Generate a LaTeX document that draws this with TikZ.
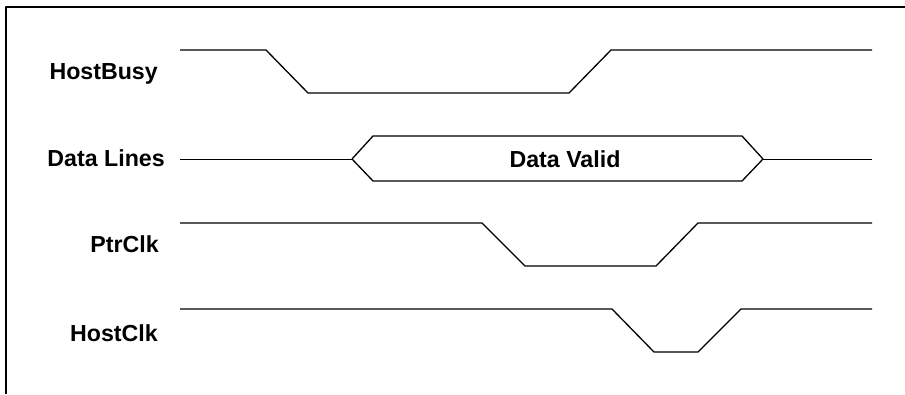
\documentclass[tikz,border=0pt]{standalone}
\usepackage{fontspec}
\setmainfont{Liberation Sans}
\usepackage{tikz}
\usetikzlibrary{calc}

\begin{document}
\begin{tikzpicture}[x=1pt,y=-1pt,line join=round,
  wave/.style={line width=1.3pt},
  frame/.style={line width=1.8pt},
  siglabel/.style={anchor=base east,inner sep=0pt,font=\bfseries\fontsize{23.2}{27}\selectfont}]
  \useasboundingbox (0,0) rectangle (905,394);
  % frame
  \coordinate (F0) at (6,394);
  \coordinate (F1) at (6,7);
  \coordinate (F2) at (905,7);
  \draw[frame] (F0) -- (F1) -- (F2);
  % HostBusy
  \coordinate (HB0) at (180,50);
  \coordinate (HB1) at (266,50);
  \coordinate (HB2) at (308,93);
  \coordinate (HB3) at (569,93);
  \coordinate (HB4) at (611,50);
  \coordinate (HB5) at (872,50);
  \draw[wave] (HB0) -- (HB1) -- (HB2) -- (HB3) -- (HB4) -- (HB5);
  % Data Lines
  \coordinate (DL0) at (180,159);
  \coordinate (DL1) at (352,159);
  \coordinate (DL2) at (373,136);
  \coordinate (DL3) at (742,136);
  \coordinate (DL4) at (763,159);
  \coordinate (DL5) at (742,181);
  \coordinate (DL6) at (373,181);
  \coordinate (DL7) at (872,159);
  \draw[wave,line width=1pt] (DL0) -- (DL1);
  \draw[wave] (DL1) -- (DL2) -- (DL3) -- (DL4) -- (DL5) -- (DL6) -- cycle;
  \draw[wave,line width=1pt] (DL4) -- (DL7);
  % PtrClk
  \coordinate (PC0) at (180,223);
  \coordinate (PC1) at (482,223);
  \coordinate (PC2) at (525,266);
  \coordinate (PC3) at (656,266);
  \coordinate (PC4) at (698,223);
  \coordinate (PC5) at (872,223);
  \draw[wave] (PC0) -- (PC1) -- (PC2) -- (PC3) -- (PC4) -- (PC5);
  % HostClk
  \coordinate (HC0) at (180,309);
  \coordinate (HC1) at (612,309);
  \coordinate (HC2) at (654,352);
  \coordinate (HC3) at (698,352);
  \coordinate (HC4) at (741,309);
  \coordinate (HC5) at (872,309);
  \draw[wave] (HC0) -- (HC1) -- (HC2) -- (HC3) -- (HC4) -- (HC5);
  % labels
  \node[siglabel] (lHB) at (158,79) {HostBusy};
  \node[siglabel] (lDL) at (165,166) {Data Lines};
  \node[siglabel] (lPC) at (159,252) {PtrClk};
  \node[siglabel] (lHC) at (158,341) {HostClk};
  \node[siglabel,anchor=base] (lDV) at (565,167) {Data Valid};
\end{tikzpicture}
\end{document}
